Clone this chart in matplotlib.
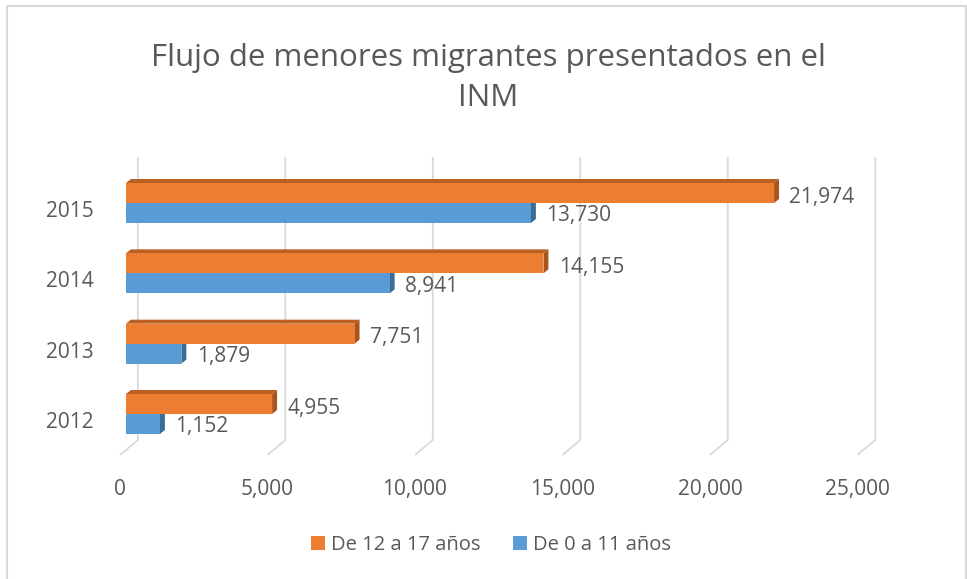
import matplotlib.pyplot as plt
from matplotlib.patches import Polygon, Rectangle, Patch

# datos
years = ['2012', '2013', '2014', '2015']
de_12_a_17 = [4955, 7751, 14155, 21974]
de_0_a_11 = [1152, 1879, 8941, 13730]
x_ticks = [0, 5000, 10000, 15000, 20000, 25000]
title = 'Flujo de menores migrantes presentados en el\nINM'
labels = ['De 12 a 17 años', 'De 0 a 11 años']

orange = '#ED7D31'
orange_top = '#BC5F22'
orange_side = '#A9561E'
blue = '#5B9BD5'
blue_side = '#3A6C98'
grid_c = '#D9D9D9'
text_c = '#595959'

plt.rcParams['font.family'] = ['Open Sans', 'DejaVu Sans']

W, H = 967, 579
fig = plt.figure(figsize=(W / 100, H / 100), dpi=100)

# ejes: 0 del frente de barras en x=~121 px, 5000 cada 148.6 px
px_x = 5000 / 148.6       # unidades por pixel en x
px_y = 1 / 70.33          # unidades por pixel en y
x0_px, top_px, bot_px = 120, 157, 455
xmax = 26500
ax = fig.add_axes([x0_px / W, 1 - bot_px / H,
                   (xmax / px_x) / W, (bot_px - top_px) / H])
ax.set_xlim(0, xmax)
ax.set_ylim(-(bot_px - 414) * px_y, (414 - top_px) * px_y)
for s in ax.spines.values():
    s.set_visible(False)

h = 20 * px_y             # alto de cada barra
dx = 5 * px_x             # profundidad 3D
dy = 4 * px_y
back_dx = 12 * px_x
front_dx = -6 * px_x
floor_back = -(440 - 414) * px_y
ylo = ax.get_ylim()[0]
yhi = ax.get_ylim()[1]

# lineas de cuadricula (pared del fondo + piso)
for v in x_ticks:
    ax.plot([v + back_dx, v + back_dx, v + front_dx],
            [yhi, floor_back, ylo], color=grid_c, lw=1.3,
            zorder=1, solid_capstyle='butt', clip_on=False)

# barras con efecto 3D
for i, (o, b) in enumerate(zip(de_12_a_17, de_0_a_11)):
    # serie azul (abajo)
    ax.add_patch(Polygon([(b, i - h), (b + dx, i - h + dy), (b + dx, i + dy), (b, i)],
                         closed=True, fc=blue_side, ec='none', zorder=2))
    ax.add_patch(Rectangle((0, i - h), b, h, fc=blue, ec='none', zorder=3))
    # serie naranja (arriba)
    ax.add_patch(Polygon([(0, i + h), (dx, i + h + dy), (o + dx, i + h + dy), (o, i + h)],
                         closed=True, fc=orange_top, ec='none', zorder=4))
    ax.add_patch(Polygon([(o, i), (o + dx, i + dy), (o + dx, i + h + dy), (o, i + h)],
                         closed=True, fc=orange_side, ec='none', zorder=4))
    ax.add_patch(Rectangle((0, i), o, h, fc=orange, ec='none', zorder=5))
    # etiquetas de datos
    ax.annotate(f'{o:,}', (o, i + h / 2), xytext=(11, -3), textcoords='offset points',
                va='center', ha='left', fontsize=15, color=text_c)
    ax.annotate(f'{b:,}', (b, i - h / 2), xytext=(11, -2), textcoords='offset points',
                va='center', ha='left', fontsize=15, color=text_c)

ax.set_xticks([v + front_dx for v in x_ticks])
ax.set_xticklabels([f'{v:,}' for v in x_ticks])
ax.set_yticks([i - 6 * px_y for i in range(len(years))])
ax.set_yticklabels(years)
ax.tick_params(axis='x', length=0, pad=17, labelsize=15, labelcolor=text_c)
ax.tick_params(axis='y', length=0, pad=19, labelsize=15, labelcolor=text_c)

# titulo
fig.text(488 / W, 1 - 78 / H, title, ha='center', va='center',
         fontsize=22.5, color=text_c, linespacing=1.4)

# leyenda
handles = [Patch(fc=orange, ec='none'), Patch(fc=blue, ec='none')]
fig.legend(handles, labels, loc='center', bbox_to_anchor=(491 / W, 1 - 545 / H),
           ncol=2, frameon=False, fontsize=14.5, labelcolor=text_c,
           handlelength=0.7, handleheight=0.7, handletextpad=0.3, columnspacing=1.6)

# borde del grafico
fig.add_artist(Rectangle((6.5 / W, -0.1), 959 / W, 1 - 6.5 / H + 0.1,
                         transform=fig.transFigure, fill=False,
                         ec='#D9D9D9', lw=1.5))

fig.savefig('out.png', dpi=100)
